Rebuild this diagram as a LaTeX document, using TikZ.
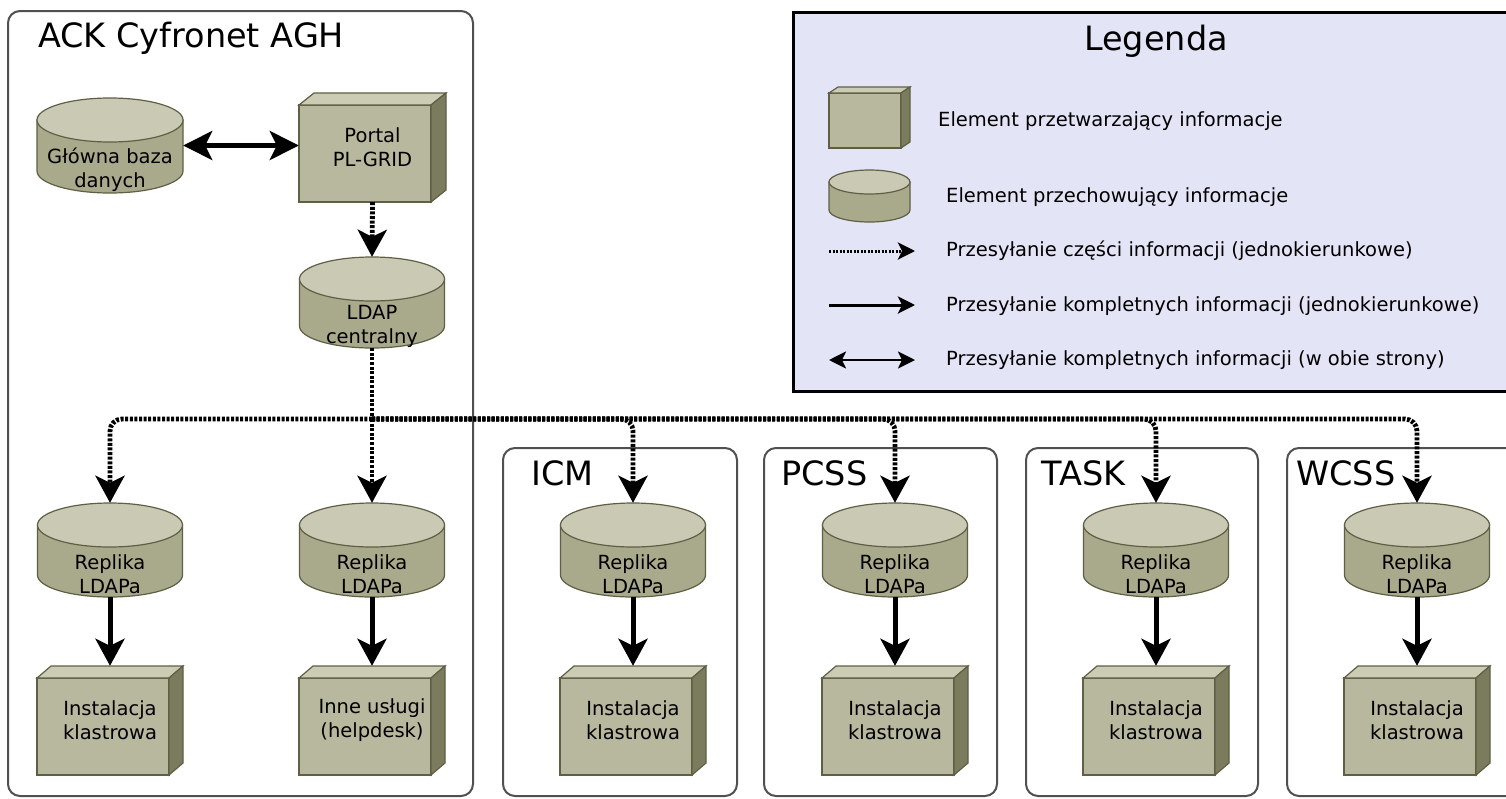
\documentclass[tikz,border=0pt]{standalone}
\usepackage{fontspec}
\setmainfont{DejaVu Sans}
\usetikzlibrary{arrows.meta}
\definecolor{boxfront}{HTML}{B8B89E}
\definecolor{boxtop}{HTML}{CCCCB5}
\definecolor{boxside}{HTML}{7B7B5D}
\definecolor{boxline}{HTML}{5F5F45}
\definecolor{cylbody}{HTML}{A9A98B}
\definecolor{cyltop}{HTML}{CACAB4}
\definecolor{legfill}{HTML}{E4E4F7}
\definecolor{framecol}{HTML}{505050}
\tikzset{
  frame/.style={draw=framecol, line width=2pt, rounded corners=12pt},
  cylstyle/.style={fill=cylbody, draw=boxline, line width=1.2pt},
  cyltopstyle/.style={fill=cyltop, draw=boxline, line width=1.2pt},
  frontstyle/.style={fill=boxfront, draw=boxline, line width=1.2pt},
  topstyle/.style={fill=boxtop, draw=boxline, line width=1.2pt},
  sidestyle/.style={fill=boxside, draw=boxline, line width=1.2pt},
  nodetext/.style={font=\fontsize{19.5}{24}\selectfont, align=center, inner sep=0pt},
  titletext/.style={font=\fontsize{33.5}{38}\selectfont, inner sep=0pt},
  legtext/.style={font=\fontsize{19.5}{22}\selectfont, inner sep=0pt, anchor=west},
  dotline/.style={line width=4.8pt, dash pattern=on 3pt off 1.6pt},
  dotflow/.style={dotline, rounded corners=12pt,
    -{Stealth[length=27pt,width=29pt,inset=7pt]}},
  fullflow/.style={line width=5pt, -{Stealth[length=27pt,width=29pt,inset=7pt]}},
  bothflow/.style={line width=4.5pt, {Stealth[length=29pt,width=29pt,inset=7pt]}-{Stealth[length=29pt,width=29pt,inset=7pt]}},
  legdot/.style={line width=3pt, dash pattern=on 2.2pt off 1.3pt, -{Stealth[length=17pt,width=17pt,inset=4pt]}},
  legfull/.style={line width=3pt, -{Stealth[length=17pt,width=17pt,inset=4pt]}},
  legboth/.style={line width=2.5pt, {Stealth[length=17pt,width=17pt,inset=4pt]}-{Stealth[length=17pt,width=17pt,inset=4pt]}},
}
% storage element: name, cx, top, bottom, rx, ry, text
\newcommand\cylnode[7]{%
  \filldraw[cylstyle] ({#2-#5},{#3+#6}) -- ({#2-#5},{#4-#6})
    arc[start angle=180,end angle=360,x radius=#5pt,y radius=#6pt]
    -- ({#2+#5},{#3+#6}) -- cycle;
  \filldraw[cyltopstyle] (#2,{#3+#6}) ellipse[x radius=#5pt,y radius=#6pt];
  \node[inner sep=0pt,minimum width={2*#5pt},minimum height={(#4-#3)*1pt}] (#1) at (#2,{(#3+#4)/2}) {};
  \node[nodetext] (#1-t) at (#2,{(#3+2*#6+#4)/2+2}) {#7};
}
% processing element: name, x1, y1, x2, y2, dx, dy, text
\newcommand\procnode[8]{%
  \filldraw[frontstyle] (#2,#3) rectangle (#4,#5);
  \filldraw[topstyle] (#2,#3) -- ({#2+#6},{#3-#7}) -- ({#4+#6},{#3-#7}) -- (#4,#3) -- cycle;
  \filldraw[sidestyle] (#4,#3) -- ({#4+#6},{#3-#7}) -- ({#4+#6},{#5-#7}) -- (#4,#5) -- cycle;
  \node[inner sep=0pt,minimum width={(#4+#6-#2)*1pt},minimum height={(#5-#3+#7)*1pt}] (#1) at ({(#2+#4+#6)/2},{(#3-#7+#5)/2}) {};
  \node[nodetext] (#1-t) at ({(#2+#4+#6)/2},{(#3+#5)/2-6}) {#8};
}
\begin{document}
\begin{tikzpicture}[x=1pt,y=-1pt]
\useasboundingbox (0,0) rectangle (1506,798);
\fill[white] (0,0) rectangle (1506,798);

% frames
\draw[frame] (8,11) rectangle (473,796);
\draw[frame] (503,448) rectangle (737,796);
\draw[frame] (764,448) rectangle (997,796);
\draw[frame] (1026,448) rectangle (1258,796);
\draw[frame] (1287,448) rectangle (1530,796);
\node[titletext,anchor=base west] (tack) at (38,47) {ACK Cyfronet AGH};
\node[titletext,anchor=base west] (ticm) at (531,485) {ICM};
\node[titletext,anchor=base west] (tpcss) at (781,485) {PCSS};
\node[titletext,anchor=base west] (ttask) at (1041,485) {TASK};
\node[titletext,anchor=base west] (twcss) at (1296,485) {WCSS};

% legend
\draw[fill=legfill, draw=black, line width=3pt] (793,12) rectangle (1530,391);
\node[titletext,anchor=base] (tleg) at (1156,50) {Legenda};
\procnode{lbox}{829}{93}{901}{148}{9}{6}{}
\cylnode{lcyl}{869.5}{170}{222}{40.5}{12}{}
\coordinate (l1a) at (829,251); \coordinate (l1b) at (915,251);
\coordinate (l2a) at (829,305); \coordinate (l2b) at (915,305);
\coordinate (l3a) at (829,360); \coordinate (l3b) at (915,360);
\draw[legdot] (l1a) -- (l1b);
\draw[legfull] (l2a) -- (l2b);
\draw[legboth] (l3a) -- (l3b);
\node[legtext] (lt1) at (938,121) {Element przetwarzający informacje};
\node[legtext] (lt2) at (946,197) {Element przechowujący informacje};
\node[legtext] (lt3) at (946,251) {Przesyłanie części informacji (jednokierunkowe)};
\node[legtext] (lt4) at (946,306) {Przesyłanie kompletnych informacji (jednokierunkowe)};
\node[legtext] (lt5) at (946,360) {Przesyłanie kompletnych informacji (w obie strony)};

% Cyfronet
\cylnode{glowna}{110}{98}{193}{73}{22}{Główna baza\\danych}
\procnode{portal}{299}{105}{431}{202}{15}{12}{Portal\\PL-GRID}
\cylnode{ldap}{372}{257}{348}{72.5}{22}{LDAP\\centralny}

\foreach \n/\cx in {r1/110,r2/372,r3/633,r4/895,r5/1156,r6/1417}{
  \cylnode{\n}{\cx}{503}{597}{72.5}{22}{Replika\\LDAPa}
}
\procnode{i1}{37}{678}{169}{775}{14}{12}{Instalacja\\klastrowa}
\procnode{i2}{299}{678}{431}{775}{14}{12}{Inne usługi\\(helpdesk)}
\procnode{i3}{560}{678}{692}{775}{14}{12}{Instalacja\\klastrowa}
\procnode{i4}{822}{678}{954}{775}{14}{12}{Instalacja\\klastrowa}
\procnode{i5}{1083}{678}{1215}{775}{14}{12}{Instalacja\\klastrowa}
\procnode{i6}{1344}{678}{1476}{775}{14}{12}{Instalacja\\klastrowa}

% connectors
\draw[bothflow] (glowna.east) -- (glowna.east -| portal.west);
\draw[dotflow] (portal.south) -- (ldap.north);
\coordinate (junc) at (372,419);
\draw[dotline] (ldap.south) -- (junc);
\draw[dotflow] (junc) -| (r1.north);
\draw[dotflow] (junc) -- (r2.north);
\draw[dotflow] (junc) -| (r3.north);
\draw[dotflow] (junc) -| (r4.north);
\draw[dotflow] (junc) -| (r5.north);
\draw[dotflow] (junc) -| (r6.north);
\foreach \k in {1,...,6}{
  \draw[fullflow] (r\k.south) -- (i\k.north);
}
\end{tikzpicture}
\end{document}
